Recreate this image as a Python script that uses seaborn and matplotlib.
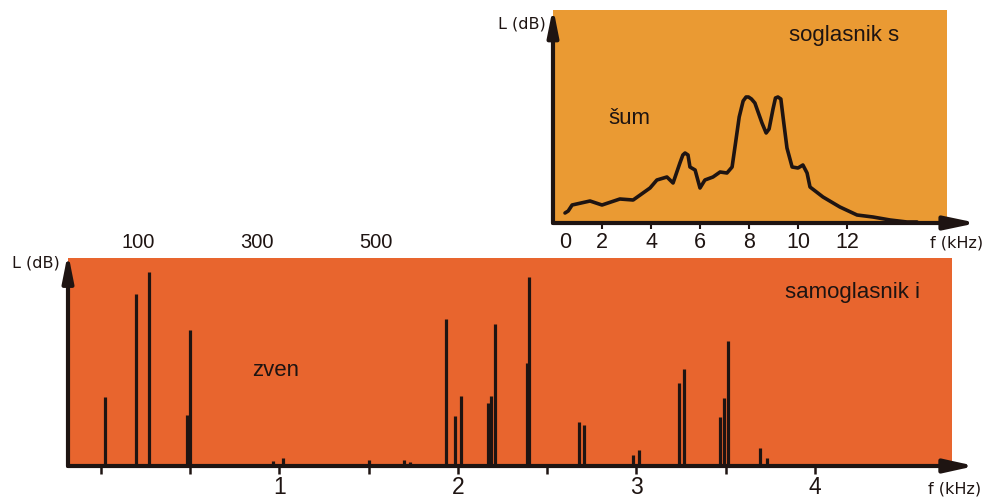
import matplotlib
matplotlib.use("Agg")
import matplotlib.pyplot as plt
import matplotlib.transforms as mtransforms
import seaborn as sns

W, H = 987, 497

# soglasnik s - kontinuirani spektar (šum)
sum_f = [0.49, 0.62, 0.78, 1.51, 2.00, 2.73, 3.27, 3.96, 4.24, 4.65, 4.90, 5.18, 5.30, 5.39,
         5.51, 5.59, 5.80, 6.00, 6.20, 6.53, 6.82, 7.10, 7.31, 7.45, 7.60, 7.76, 7.88,
         7.98, 8.10, 8.24, 8.53, 8.70, 8.82, 8.98, 9.08, 9.18, 9.30, 9.42, 9.55, 9.76, 10.00,
         10.20, 10.37, 10.49, 11.02, 11.71, 12.41, 13.06, 13.76, 14.45, 14.86]
sum_L = [10, 12, 18, 22, 18, 24, 23, 35, 43, 46, 40, 60, 68, 70,
         68, 56, 53, 35, 43, 46, 51, 50, 56, 80, 106, 122, 126,
         126, 124, 120, 100, 90, 94, 114, 125, 126, 124, 100, 75, 56, 55,
         58, 50, 36, 26, 16, 8, 6, 3, 1, 1]

# samoglasnik i - linijski spektar (zven)
zven_f = [0.022, 0.196, 0.269, 0.482, 0.499, 0.964, 1.020, 1.500, 1.700, 1.730,
          1.933, 1.983, 2.017, 2.168, 2.185, 2.207, 2.387, 2.398, 2.678, 2.706,
          2.980, 3.014, 3.238, 3.266, 3.468, 3.490, 3.513, 3.692, 3.731]
zven_L = [69, 172, 194, 51, 136, 5, 8, 6, 6, 4,
          147, 50, 70, 63, 70, 142, 103, 189, 44, 41,
          11, 16, 83, 97, 49, 68, 125, 18, 8]

donji_ticks = [0, 0.5, 1, 1.5, 2, 2.5, 3, 3.5, 4]
donji_oznake = ["", "", "1", "", "2", "", "3", "", "4"]
gornji_ticks = [2, 4, 6, 8, 10, 12]
gornje_oznake = ["2", "4", "6", "8", "10", "12"]
hz_oznake = ["100", "300", "500"]
hz_polozaj = [0.207, 0.874, 1.54]

narancasta = "#EA9A33"
crvena = "#E8652E"
tinta = "#1E1412"

sns.set_theme(style="white")
plt.rcParams["font.family"] = ["Liberation Sans", "DejaVu Sans"]


def px(x, y):
    return x / W, 1 - y / H


def strelica(ax, start, kraj, hl, hw):
    ax.annotate("", xy=kraj, xytext=start, xycoords="axes fraction",
                textcoords="axes fraction", annotation_clip=False,
                arrowprops=dict(arrowstyle=f"-|>,head_length={hl},head_width={hw}",
                                lw=3, color=tinta, shrinkA=0, shrinkB=0,
                                mutation_scale=20), zorder=5)


fig = plt.figure(figsize=(W / 100, H / 100), dpi=100)
fig.patch.set_facecolor("white")

# gornji graf: soglasnik s
ax1 = fig.add_axes([553 / W, 1 - 223 / H, 394 / W, 213 / H])
ax1.set_facecolor(narancasta)
sns.lineplot(x=sum_f, y=sum_L, ax=ax1, sort=False, estimator=None, color=tinta,
             lw=2.6, solid_joinstyle="round", solid_capstyle="round")
ax1.set_xlim(0, 394 / 24.5)
ax1.set_ylim(0, 213)
ax1.set_yticks([])
ax1.set_xticks(gornji_ticks)
ax1.set_xticklabels(gornje_oznake)
ax1.tick_params(axis="x", bottom=True, direction="out", length=4.5, width=1.5,
                color=tinta, pad=2, labelsize=15.5, labelcolor=tinta)
for s in ax1.spines.values():
    s.set_visible(False)
nula = mtransforms.blended_transform_factory(ax1.transData, ax1.transAxes) + \
    mtransforms.ScaledTranslation(0, -6.5 / 72, fig.dpi_scale_trans)
ax1.text(0.48, 0, "0", transform=nula, ha="center", va="top", fontsize=15.5, color=tinta)
strelica(ax1, (0, 0), (0, 1.012), 0.8, 0.16)
strelica(ax1, (0, 0), (424 / 394, 0), 0.95, 0.2)
ax1.text(0.74, 0.88, "soglasnik s", transform=ax1.transAxes, ha="center",
         va="center", fontsize=16, color=tinta)
ax1.text(0.195, 0.49, "šum", transform=ax1.transAxes, ha="center",
         va="center", fontsize=16, color=tinta)

# donji graf: samoglasnik i
ax2 = fig.add_axes([68 / W, 1 - 466 / H, 884 / W, 208 / H])
ax2.set_facecolor(crvena)
ax2.vlines(zven_f, 0, zven_L, colors=tinta, lw=2.3)
ax2.set_xlim((68 - 101) / 178.5, (952 - 101) / 178.5)
ax2.set_ylim(0, 208)
ax2.set_yticks([])
ax2.set_xticks(donji_ticks)
ax2.set_xticklabels(donji_oznake)
ax2.tick_params(axis="x", bottom=True, direction="out", length=6, width=1.8,
                color=tinta, pad=1, labelsize=16.5, labelcolor=tinta)
for s in ax2.spines.values():
    s.set_visible(False)
strelica(ax2, (0, 0), (0, 213 / 208), 0.8, 0.16)
strelica(ax2, (0, 0), (907 / 884, 0), 0.9, 0.2)
ax2.text(0.887, 0.835, "samoglasnik i", transform=ax2.transAxes, ha="center",
         va="center", fontsize=16, color=tinta)
ax2.text(0.235, 0.46, "zven", transform=ax2.transAxes, ha="center",
         va="center", fontsize=16, color=tinta)
hz = mtransforms.blended_transform_factory(ax2.transData, ax2.transAxes)
for f, t in zip(hz_polozaj, hz_oznake):
    ax2.text(f, (466 - 243) / 208, t, transform=hz, ha="center", va="center",
             fontsize=14.5, color=tinta)

# oznake osi
osi = dict(family=["DejaVu Sans"], fontsize=11.5, color=tinta, ha="center", va="center")
fig.text(*px(522, 24), "L (dB)", **osi)
fig.text(*px(957, 243), "f (kHz)", **osi)
fig.text(*px(36, 263), "L (dB)", **osi)
fig.text(*px(955, 489), "f (kHz)", **osi)

fig.savefig("out.png", dpi=100, facecolor="white")
